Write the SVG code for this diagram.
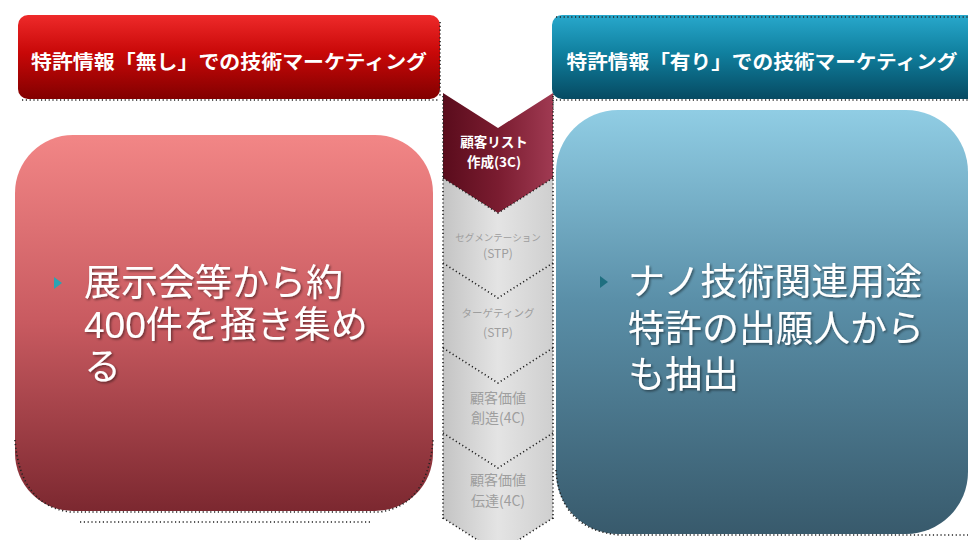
<svg xmlns="http://www.w3.org/2000/svg" width="968" height="540" viewBox="0 0 968 540">
<defs>
<linearGradient id="gRedHead" x1="0" y1="0" x2="0" y2="1">
<stop offset="0" stop-color="#ee2a2a"/>
<stop offset="0.45" stop-color="#c80808"/>
<stop offset="1" stop-color="#820000"/>
</linearGradient>
<linearGradient id="gBlueHead" x1="0" y1="0" x2="0" y2="1">
<stop offset="0" stop-color="#28a8cc"/>
<stop offset="0.45" stop-color="#10809f"/>
<stop offset="1" stop-color="#064a62"/>
</linearGradient>
<linearGradient id="gRedBox" x1="0" y1="0" x2="0" y2="1">
<stop offset="0" stop-color="#f28686"/>
<stop offset="0.5" stop-color="#c85a60"/>
<stop offset="1" stop-color="#7c2830"/>
</linearGradient>
<linearGradient id="gBlueBox" x1="0" y1="0" x2="0" y2="1">
<stop offset="0" stop-color="#90cde4"/>
<stop offset="0.45" stop-color="#5a8fa8"/>
<stop offset="1" stop-color="#385a6c"/>
</linearGradient>
<linearGradient id="gMaroon" x1="0" y1="0" x2="1" y2="0">
<stop offset="0" stop-color="#5a0c1c"/>
<stop offset="0.5" stop-color="#7a1c30"/>
<stop offset="1" stop-color="#a03a52"/>
</linearGradient>
<linearGradient id="gGray" x1="0" y1="0" x2="1" y2="0">
<stop offset="0" stop-color="#c4c4c4"/>
<stop offset="0.5" stop-color="#e4e4e4"/>
<stop offset="1" stop-color="#cfcfcf"/>
</linearGradient>
<filter id="shadow" x="-5%" y="-5%" width="110%" height="120%">
<feDropShadow dx="1.5" dy="1.5" stdDeviation="0.8" flood-color="#000" flood-opacity="0.45"/>
</filter>
</defs>
<style>
.cjk{font-family:"Noto Sans CJK JP","Noto Sans CJK SC",sans-serif;}
.lat{font-family:"Liberation Sans","Noto Sans CJK JP","Noto Sans CJK SC",sans-serif;}
.head{font-size:19px;font-weight:bold;fill:#ffffff;}
.big{font-size:37px;fill:#ffffff;}
.mlab{font-size:13.5px;font-weight:bold;fill:#ffffff;text-anchor:middle;}
.glab{fill:#9e9e9e;text-anchor:middle;}
.dots{fill:none;stroke:#222;stroke-width:1.6;stroke-dasharray:1.2 2.6;}
</style>
<rect width="968" height="540" fill="#ffffff"/>

<g id="header-left">
<rect x="18" y="15" width="422" height="84" rx="10" fill="url(#gRedHead)"/>
<path d="M22,100 H440" class="dots"/>
<path d="M440,22 V98" class="dots"/>
<text x="229" y="69" class="cjk head" text-anchor="middle" textLength="396" lengthAdjust="spacingAndGlyphs">特許情報「無し」での技術マーケティング</text>
</g>

<g id="header-right">
<rect x="552" y="15" width="432" height="84" rx="10" fill="url(#gBlueHead)"/>
<path d="M556,17 H968" class="dots"/>
<path d="M556,100 H968" class="dots"/>
<path d="M553,94 V110" class="dots"/>
<text x="762" y="69" class="cjk head" text-anchor="middle" textLength="391" lengthAdjust="spacingAndGlyphs">特許情報「有り」での技術マーケティング</text>
</g>

<g id="box-left">
<rect x="15" y="135" width="418" height="376" rx="58" fill="url(#gRedBox)"/>
<path d="M15,440 Q20,505 70,512 H380 Q428,505 433,440" class="dots"/>
<path d="M80,522 H370" class="dots" stroke-dasharray="1.2 8"/>
<polygon points="54,277 62,283 54,289" fill="#2aa3b3"/>
<g filter="url(#shadow)">
<text x="84" y="296" class="lat big">展示会等から約</text>
<text x="84" y="338" class="lat big">400件を掻き集め</text>
<text x="84" y="380" class="lat big">る</text>
</g>
</g>

<g id="box-right">
<rect x="556" y="110" width="412" height="424" rx="62" fill="url(#gBlueBox)"/>
<path d="M552,110 V470" class="dots"/>
<path d="M556,470 Q560,530 620,535 H968" class="dots"/>
<polygon points="600,276 608,282 600,288" fill="#1f6f80"/>
<g filter="url(#shadow)">
<text x="628" y="295" class="lat big">ナノ技術関連用途</text>
<text x="628" y="342" class="lat big">特許の出願人から</text>
<text x="628" y="388" class="lat big">も抽出</text>
</g>
</g>

<g id="chevron-5">
<path d="M443,433 L498,468 L553,433 L553,518 L498,553 L443,518 Z" fill="url(#gGray)"/>
<path d="M443,518 L498,553 L553,518" class="dots"/>
<text x="498" y="485" class="cjk glab" font-size="14">顧客価値</text>
<text x="498" y="506" class="cjk glab" font-size="14">伝達(4C)</text>
</g>
<g id="chevron-4">
<path d="M443,348 L498,383 L553,348 L553,433 L498,468 L443,433 Z" fill="url(#gGray)"/>
<text x="498" y="403" class="cjk glab" font-size="14">顧客価値</text>
<text x="498" y="423" class="cjk glab" font-size="14">創造(4C)</text>
</g>
<g id="chevron-3">
<path d="M443,263 L498,298 L553,263 L553,348 L498,383 L443,348 Z" fill="url(#gGray)"/>
<text x="498" y="317" class="cjk glab" font-size="10.5">ターゲティング</text>
<text x="498" y="337" class="cjk glab" font-size="12">(STP)</text>
</g>
<g id="chevron-2">
<path d="M443,178 L498,213 L553,178 L553,263 L498,298 L443,263 Z" fill="url(#gGray)"/>
<text x="498" y="241" class="cjk glab" font-size="9.5">セグメンテーション</text>
<text x="498" y="258" class="cjk glab" font-size="12">(STP)</text>
</g>
<g id="chevron-1">
<path d="M443,93 L498,128 L553,93 L553,178 L498,213 L443,178 Z" fill="url(#gMaroon)"/>
<text x="494" y="147" class="cjk mlab">顧客リスト</text>
<text x="494" y="167" class="cjk mlab">作成(3C)</text>
</g>

<g id="connectors">
<path d="M443,178 L498,213 L553,178" class="dots"/>
<path d="M443,263 L498,298 L553,263" class="dots"/>
<path d="M443,348 L498,383 L553,348" class="dots"/>
<path d="M443,433 L498,468 L553,433" class="dots"/>
<path d="M443,96 V520" class="dots"/>
<path d="M553,96 V520" class="dots"/>
</g>
</svg>
